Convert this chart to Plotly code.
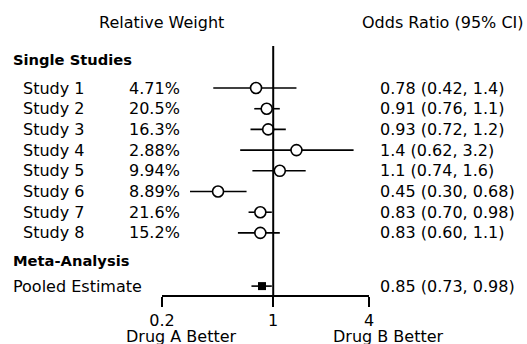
import math
import plotly.graph_objects as go

# ---- data ----
studies = ["Study 1", "Study 2", "Study 3", "Study 4", "Study 5", "Study 6", "Study 7", "Study 8"]
weights = ["4.71%", "20.5%", "16.3%", "2.88%", "9.94%", "8.89%", "21.6%", "15.2%"]
odds = [0.78, 0.91, 0.93, 1.4, 1.1, 0.45, 0.83, 0.83]
ci_low = [0.42, 0.76, 0.72, 0.62, 0.74, 0.30, 0.70, 0.60]
ci_high = [1.4, 1.1, 1.2, 3.2, 1.6, 0.68, 0.98, 1.1]
ci_text = ["0.78 (0.42, 1.4)", "0.91 (0.76, 1.1)", "0.93 (0.72, 1.2)", "1.4 (0.62, 3.2)",
           "1.1 (0.74, 1.6)", "0.45 (0.30, 0.68)", "0.83 (0.70, 0.98)", "0.83 (0.60, 1.1)"]
pooled_label = "Pooled Estimate"
pooled_or = 0.85
pooled_low = 0.73
pooled_high = 0.98
pooled_text = "0.85 (0.73, 0.98)"
tick_vals = [0.2, 1, 4]
tick_text = ["0.2", "1", "4"]

FONT = "DejaVu Sans"
FS = 16
FS_BOLD = 14.7

# row positions (row units)
study_rows = [i + 1 for i in range(len(studies))]
row_single = -0.4
row_meta = 9.31
row_pooled = 10.57
Y_TOP, Y_BOT = -1.03, 11.0

fig = go.Figure()

# CI lines
xs, ys = [], []
for lo, hi, r in zip(ci_low, ci_high, study_rows):
    xs += [lo, hi, None]
    ys += [r, r, None]
xs += [pooled_low, pooled_high, None]
ys += [row_pooled, row_pooled, None]
fig.add_trace(go.Scatter(x=xs, y=ys, mode="lines", line=dict(color="black", width=1.6),
                         hoverinfo="skip", showlegend=False))

# study estimates
fig.add_trace(go.Scatter(x=odds, y=study_rows, mode="markers",
                         marker=dict(symbol="circle", size=11, color="white",
                                     line=dict(color="black", width=1.6)),
                         showlegend=False))
# pooled estimate
fig.add_trace(go.Scatter(x=[pooled_or], y=[row_pooled], mode="markers",
                         marker=dict(symbol="square", size=8, color="black",
                                     line=dict(color="black", width=0)),
                         showlegend=False))

# reference line at 1
fig.add_shape(type="line", xref="x", yref="paper", x0=1, x1=1, y0=0, y1=1,
              line=dict(color="black", width=2))

ann = []
def txt(x, y, s, xanchor="left", yref="y", bold=False):
    ann.append(dict(x=x, y=y, xref="paper", yref=yref, text=("<b>%s</b>" % s) if bold else s,
                    showarrow=False, xanchor=xanchor, yanchor="middle",
                    font=dict(family=FONT, size=FS_BOLD if bold else FS, color="black")))

L, R = 162.0, 369.0
T, B = 46.0, 295.0
def px(p):
    return (p - L) / (R - L)
def py(p):
    return (B - p) / (B - T)

txt(px(161.5), py(23), "Relative Weight", "center", yref="paper")
txt(px(443), py(23), "Odds Ratio (95% CI)", "center", yref="paper")
txt(px(11), row_single, "Single Studies", bold=True)
for s, w, c, r in zip(studies, weights, ci_text, study_rows):
    txt(px(21), r, s)
    txt(px(127), r, w)
    txt(px(378), r, c)
txt(px(11), row_meta, "Meta-Analysis", bold=True)
txt(px(11), row_pooled, pooled_label)
txt(px(378), row_pooled, pooled_text)
txt(px(181), py(337), "Drug A Better", "center", yref="paper")
txt(px(388), py(337), "Drug B Better", "center", yref="paper")

fig.update_layout(
    width=527, height=344,
    margin=dict(l=int(L), r=int(527 - R), t=int(T), b=int(344 - B), pad=0),
    paper_bgcolor="white", plot_bgcolor="white",
    annotations=ann,
    showlegend=False,
    xaxis=dict(type="log", range=[math.log10(0.2), math.log10(4)],
               tickvals=tick_vals, ticktext=tick_text,
               ticks="outside", ticklen=10, tickwidth=1.6, tickcolor="black",
               showline=True, linecolor="black", linewidth=1.6,
               showgrid=False, zeroline=False,
               tickfont=dict(family=FONT, size=FS, color="black")),
    yaxis=dict(range=[Y_BOT, Y_TOP], visible=False, showgrid=False, zeroline=False),
)

fig.write_html("out.html", config={"displayModeBar": False},
               post_script="document.body.style.margin='0';")
